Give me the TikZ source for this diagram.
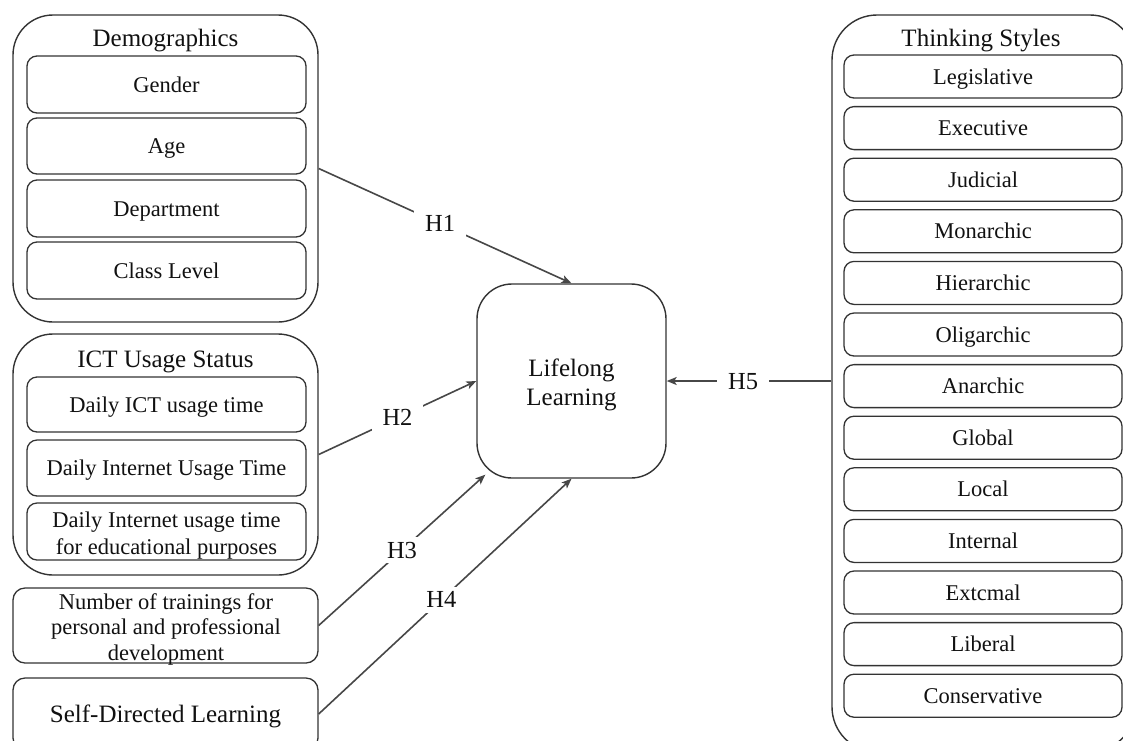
\documentclass[tikz,border=0pt]{standalone}
\usepackage{fontspec}
\setmainfont{Liberation Serif}
\usetikzlibrary{arrows.meta,calc}
\definecolor{bc}{HTML}{333333}
\definecolor{ac}{HTML}{474747}
\definecolor{tc}{HTML}{111111}
\newcommand\fsA{\fontsize{22.5pt}{23.5pt}\selectfont}
\newcommand\fsB{\fontsize{25pt}{29pt}\selectfont}
\newcommand\fsH{\fontsize{24.5pt}{29pt}\selectfont}
\begin{document}
\begin{tikzpicture}[x=1pt,y=-1pt,
 outer/.style={draw=bc, line width=1.4pt, rounded corners=40pt, inner sep=0pt},
 ibase/.style={draw=bc, line width=1.3pt, rounded corners=10pt, inner sep=0pt,
   minimum width=279pt, minimum height=56pt, font=\fsA, text=tc},
 ibox/.style={ibase, text height=15pt, text depth=0pt},
 tbox/.style={ibox, minimum width=278pt, minimum height=43pt},
 ttl/.style={font=\fsB, text=tc, anchor=base, inner sep=0pt},
 mtext/.style={font=\fsA, text=tc, align=center, inner sep=0pt},
 arr/.style={draw=ac, line width=1.6pt, -{Stealth[length=10pt,width=8pt,inset=2.5pt]}},
 hl/.style={fill=white, font=\fsH, text=tc, inner xsep=11pt, inner ysep=5pt,
   text height=16pt, text depth=0pt}]
\useasboundingbox (0,0) rectangle (1123,740);
\clip (0,0) rectangle (1123,740);
\fill[white] (0,0) rectangle (1123,740);

% Demographics
\node[outer, minimum width=305pt, minimum height=307pt] (demo) at (165.5,168.5) {};
\node[ttl] (demot) at (165.5,46) {Demographics};
\node[ibox, minimum height=57pt] (gen) at (166.5,84.5) {Gender};
\node[ibox] (age) at (166.5,146) {Age};
\node[ibox, minimum height=57pt] (dep) at (166.5,208.5) {Department};
\node[ibox, minimum height=57pt] (cls) at (166.5,270.5) {Class Level};

% ICT
\node[outer, minimum width=305pt, minimum height=241pt] (ict) at (165.5,454.5) {};
\node[ttl] (ictt) at (165.5,367.5) {ICT Usage Status};
\node[ibox, minimum height=55pt] (ict1) at (166.5,404.5) {Daily ICT usage time};
\node[ibox] (ict2) at (166.5,468) {Daily Internet Usage Time};
\node[ibase, minimum height=57pt] (ict3) at (166.5,531.5) {};
\node[mtext, font=\fontsize{22.5pt}{27pt}\selectfont] (ict3t) at (166.5,535.3) {Daily Internet usage time\\for educational purposes};

% Trainings and SDL
\node[draw=bc, line width=1.3pt, rounded corners=12pt, inner sep=0pt, minimum width=305pt,
  minimum height=75pt] (tr) at (165.5,625.5) {};
\node[mtext, font=\fontsize{22.5pt}{25.5pt}\selectfont] (trt) at (166,629.3)
  {Number of trainings for\\personal and professional\\development};
\node[draw=bc, line width=1.3pt, rounded corners=12pt, inner sep=0pt, minimum width=305pt,
  minimum height=72pt, font=\fsB, text=tc, text height=16.5pt, text depth=0pt] (sdl) at (165.5,714)
  {Self-Directed Learning};

% Lifelong Learning
\node[draw=bc, line width=1.4pt, rounded corners=35pt, inner sep=0pt,
  minimum width=189pt, minimum height=194pt] (ll) at (571.5,381) {};
\node[font=\fsB, text=tc, align=center, inner sep=0pt] (llt) at (571.5,384.7) {Lifelong\\Learning};

% Thinking styles
\node[outer, rounded corners=45pt, minimum width=303pt, minimum height=737pt] (think) at (983.5,383.5) {};
\node[ttl] (thinkt) at (981,46) {Thinking Styles};
\foreach \t [count=\i from 0] in {Legislative,Executive,Judicial,Monarchic,Hierarchic,Oligarchic,Anarchic,Global,Local,Internal,Extcmal,Liberal,Conservative}
  \node[tbox] (ts\i) at (983,{76.5+\i*51.6}) {\t};

% connectors
\coordinate (h3end) at ($(ll.south west)+(9,-4)$);
\draw[arr] (demo.east) -- node[hl, pos=0.48] (h1) {H1} (ll.north);
\draw[arr] (ict.east) -- node[hl, pos=0.5] (h2) {H2} (ll.west);
\draw[arr] (tr.east) -- node[hl, pos=0.5] (h3) {H3} (h3end);
\draw[arr] (sdl.east) -- node[hl, pos=0.485] (h4) {H4} (ll.south);
\draw[arr] (think.west |- ll.east) -- node[hl, pos=0.536] (h5) {H5} (ll.east);
\end{tikzpicture}
\end{document}
